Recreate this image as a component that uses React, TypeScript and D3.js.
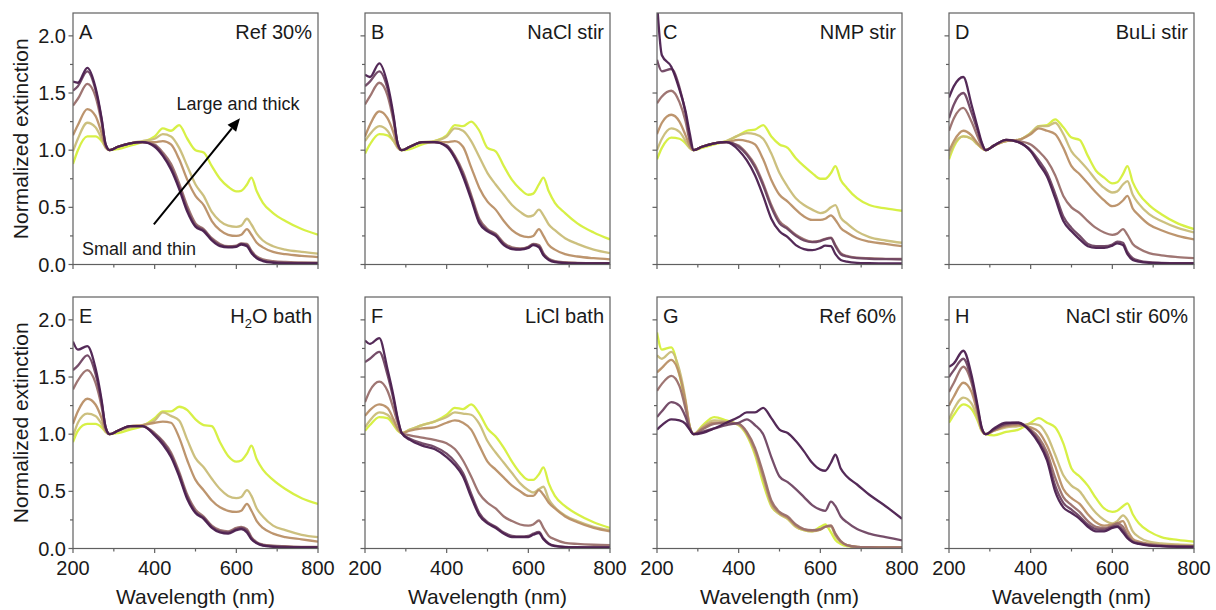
import React from "react";
import * as d3 from "d3";

// ---------- data ----------
const WAVELENGTHS = [200, 212, 235, 255, 270, 280, 290, 310, 340, 370, 400, 420, 440, 460, 480, 500, 520, 540, 560, 580, 600, 612, 626, 637, 650, 665, 690, 720, 760, 800];

const SERIES_COLORS = ["#4b1f4f", "#6f4462", "#9a6f6c", "#b98f66", "#c9bd78", "#d5ef3c"];

const X_TICKS = [200, 400, 600, 800];
const X_MINOR = [300, 500, 700];
const Y_TICKS = [0, 0.5, 1.0, 1.5, 2.0];
const Y_MINOR = [0.25, 0.75, 1.25, 1.75];

const PANEL_LETTERS = ["A", "B", "C", "D", "E", "F", "G", "H"];
const PANEL_TITLES = ["Ref 30%", "NaCl stir", "NMP stir", "BuLi stir", "H2O bath", "LiCl bath", "Ref 60%", "NaCl stir 60%"];

const X_LABEL = "Wavelength (nm)";
const Y_LABEL = "Normalized extinction";
const ARROW_TEXT_TOP = "Large and thick";
const ARROW_TEXT_BOTTOM = "Small and thin";

// series ordered from darkest (S1) to yellow-green (S6)
const A_SERIES = [
  [1.60,1.59,1.72,1.55,1.28,1.05,1.00,1.03,1.06,1.07,1.03,0.95,0.83,0.66,0.46,0.33,0.29,0.21,0.16,0.15,0.155,0.175,0.16,0.10,0.055,0.03,0.015,0.01,0.01,0.01],
  [1.52,1.56,1.69,1.53,1.27,1.05,1.00,1.03,1.06,1.07,1.04,0.96,0.85,0.68,0.48,0.34,0.30,0.22,0.17,0.155,0.16,0.18,0.17,0.11,0.06,0.035,0.02,0.015,0.012,0.012],
  [1.39,1.45,1.58,1.47,1.24,1.04,1.00,1.03,1.06,1.07,1.05,0.98,0.88,0.71,0.51,0.36,0.31,0.23,0.18,0.16,0.165,0.185,0.18,0.12,0.07,0.045,0.03,0.022,0.018,0.016],
  [1.13,1.22,1.36,1.30,1.15,1.03,1.00,1.03,1.06,1.07,1.07,1.08,1.05,0.92,0.74,0.60,0.52,0.38,0.30,0.26,0.25,0.26,0.31,0.26,0.19,0.15,0.11,0.09,0.075,0.065],
  [0.99,1.10,1.24,1.20,1.10,1.02,1.00,1.03,1.06,1.08,1.10,1.14,1.12,1.02,0.86,0.70,0.60,0.46,0.38,0.34,0.33,0.34,0.40,0.35,0.27,0.21,0.16,0.13,0.11,0.095],
  [0.88,1.00,1.12,1.12,1.08,1.03,1.00,1.01,1.04,1.07,1.12,1.19,1.17,1.22,1.10,1.00,0.98,0.86,0.75,0.68,0.64,0.645,0.70,0.76,0.64,0.54,0.45,0.38,0.31,0.26],
];

const B_SERIES = [
  [1.66,1.64,1.76,1.58,1.30,1.06,1.00,1.03,1.07,1.07,1.03,0.93,0.77,0.57,0.36,0.29,0.25,0.17,0.135,0.13,0.145,0.17,0.15,0.08,0.04,0.02,0.012,0.01,0.01,0.01],
  [1.56,1.60,1.69,1.54,1.28,1.06,1.00,1.03,1.07,1.07,1.04,0.94,0.79,0.59,0.38,0.30,0.26,0.18,0.14,0.135,0.15,0.175,0.16,0.09,0.045,0.025,0.015,0.012,0.01,0.01],
  [1.40,1.47,1.59,1.48,1.25,1.05,1.00,1.03,1.07,1.07,1.04,0.95,0.81,0.61,0.40,0.31,0.27,0.19,0.15,0.14,0.155,0.18,0.17,0.10,0.05,0.03,0.02,0.015,0.012,0.012],
  [1.12,1.22,1.34,1.28,1.15,1.03,1.00,1.03,1.07,1.07,1.07,1.08,1.03,0.85,0.67,0.55,0.48,0.38,0.30,0.255,0.24,0.25,0.31,0.25,0.17,0.13,0.09,0.07,0.055,0.045],
  [1.08,1.14,1.21,1.17,1.08,1.02,1.00,1.03,1.07,1.08,1.12,1.19,1.17,1.08,0.94,0.80,0.70,0.61,0.52,0.46,0.42,0.43,0.48,0.43,0.35,0.30,0.23,0.18,0.13,0.10],
  [0.97,1.05,1.14,1.13,1.08,1.03,1.00,1.01,1.05,1.08,1.13,1.22,1.21,1.25,1.17,1.02,0.99,0.86,0.74,0.66,0.61,0.62,0.70,0.76,0.64,0.54,0.45,0.36,0.28,0.22],
];

const C_SERIES = [
  [2.30,1.83,1.73,1.53,1.34,1.15,1.00,1.03,1.06,1.07,1.00,0.91,0.78,0.60,0.40,0.29,0.24,0.17,0.135,0.125,0.145,0.165,0.16,0.09,0.04,0.025,0.015,0.012,0.01,0.01],
  [1.79,1.69,1.71,1.55,1.32,1.10,1.00,1.03,1.06,1.07,1.03,0.96,0.85,0.69,0.50,0.36,0.31,0.25,0.21,0.195,0.205,0.22,0.23,0.16,0.09,0.07,0.055,0.05,0.047,0.045],
  [1.41,1.47,1.52,1.42,1.25,1.08,1.00,1.03,1.06,1.07,1.04,0.97,0.87,0.71,0.52,0.38,0.32,0.26,0.22,0.20,0.21,0.225,0.235,0.17,0.10,0.075,0.06,0.055,0.05,0.048],
  [1.14,1.24,1.31,1.25,1.13,1.04,1.00,1.03,1.06,1.07,1.09,1.08,1.05,0.92,0.74,0.61,0.55,0.48,0.42,0.39,0.39,0.40,0.43,0.39,0.32,0.28,0.23,0.20,0.18,0.16],
  [1.00,1.10,1.19,1.16,1.08,1.02,1.00,1.03,1.06,1.08,1.13,1.15,1.14,1.10,0.97,0.80,0.68,0.58,0.52,0.48,0.45,0.46,0.50,0.52,0.41,0.36,0.29,0.24,0.21,0.19],
  [0.92,1.02,1.11,1.10,1.06,1.02,1.00,1.02,1.05,1.08,1.13,1.17,1.18,1.22,1.12,1.05,1.02,0.93,0.86,0.80,0.75,0.75,0.80,0.86,0.74,0.67,0.58,0.52,0.49,0.47],
];

const D_SERIES = [
  [1.46,1.56,1.64,1.40,1.20,1.07,1.00,1.04,1.09,1.07,0.99,0.88,0.77,0.58,0.38,0.29,0.22,0.16,0.145,0.145,0.165,0.185,0.17,0.09,0.04,0.025,0.015,0.012,0.01,0.01],
  [1.28,1.40,1.50,1.33,1.17,1.06,1.00,1.04,1.09,1.07,1.00,0.91,0.80,0.62,0.42,0.32,0.25,0.18,0.16,0.16,0.175,0.20,0.19,0.11,0.055,0.035,0.02,0.015,0.012,0.012],
  [1.17,1.28,1.37,1.25,1.12,1.04,1.00,1.04,1.09,1.08,1.05,0.99,0.91,0.78,0.60,0.50,0.45,0.38,0.32,0.28,0.26,0.27,0.31,0.26,0.18,0.14,0.10,0.08,0.065,0.055],
  [0.99,1.08,1.17,1.13,1.06,1.02,1.00,1.04,1.08,1.09,1.14,1.19,1.17,1.14,1.02,0.86,0.79,0.71,0.63,0.56,0.51,0.52,0.56,0.60,0.49,0.43,0.35,0.30,0.25,0.22],
  [0.95,1.05,1.12,1.10,1.05,1.02,1.00,1.04,1.08,1.09,1.15,1.21,1.21,1.24,1.14,0.99,0.91,0.83,0.74,0.67,0.63,0.64,0.70,0.73,0.61,0.53,0.44,0.38,0.32,0.28],
  [0.92,1.03,1.12,1.10,1.05,1.02,1.00,1.04,1.08,1.09,1.15,1.21,1.22,1.27,1.20,1.11,1.09,0.95,0.82,0.76,0.71,0.72,0.79,0.86,0.72,0.62,0.52,0.44,0.36,0.31],
];

const E_SERIES = [
  [1.81,1.74,1.77,1.58,1.30,1.06,1.00,1.03,1.07,1.07,0.99,0.91,0.80,0.63,0.43,0.31,0.26,0.18,0.14,0.13,0.16,0.17,0.14,0.08,0.045,0.025,0.015,0.01,0.01,0.01],
  [1.56,1.60,1.69,1.53,1.28,1.06,1.00,1.03,1.07,1.07,1.00,0.93,0.82,0.65,0.45,0.32,0.27,0.19,0.15,0.14,0.17,0.18,0.155,0.09,0.05,0.03,0.02,0.015,0.012,0.012],
  [1.39,1.47,1.56,1.45,1.24,1.05,1.00,1.03,1.07,1.07,1.01,0.94,0.84,0.67,0.47,0.34,0.28,0.20,0.16,0.15,0.18,0.19,0.17,0.10,0.055,0.035,0.025,0.02,0.015,0.015],
  [1.09,1.20,1.31,1.26,1.14,1.03,1.00,1.03,1.07,1.08,1.10,1.11,1.10,0.97,0.77,0.60,0.51,0.42,0.36,0.33,0.32,0.33,0.39,0.33,0.24,0.18,0.13,0.10,0.08,0.06],
  [0.98,1.10,1.18,1.16,1.09,1.02,1.00,1.03,1.06,1.08,1.12,1.19,1.16,1.12,0.95,0.79,0.71,0.61,0.52,0.46,0.44,0.45,0.51,0.46,0.35,0.28,0.20,0.16,0.12,0.10],
  [0.93,1.03,1.09,1.09,1.06,1.02,1.00,1.01,1.04,1.07,1.14,1.20,1.20,1.24,1.21,1.13,1.08,1.07,0.93,0.81,0.76,0.77,0.83,0.90,0.78,0.69,0.60,0.52,0.44,0.39],
];

const F_SERIES = [
  [1.82,1.79,1.84,1.57,1.33,1.14,1.01,0.95,0.90,0.87,0.80,0.73,0.63,0.45,0.29,0.22,0.18,0.13,0.10,0.10,0.10,0.12,0.135,0.08,0.04,0.02,0.012,0.01,0.01,0.01],
  [1.63,1.66,1.72,1.52,1.30,1.13,1.01,0.96,0.92,0.89,0.83,0.76,0.66,0.48,0.31,0.23,0.19,0.14,0.11,0.105,0.11,0.13,0.145,0.09,0.045,0.025,0.015,0.012,0.01,0.01],
  [1.28,1.38,1.46,1.38,1.22,1.10,1.01,0.99,0.97,0.95,0.92,0.87,0.77,0.63,0.48,0.40,0.35,0.28,0.24,0.21,0.20,0.21,0.245,0.18,0.11,0.08,0.05,0.04,0.033,0.03],
  [1.16,1.21,1.26,1.23,1.13,1.05,1.01,1.03,1.05,1.06,1.10,1.12,1.10,1.04,0.90,0.76,0.69,0.62,0.55,0.50,0.46,0.46,0.51,0.47,0.40,0.35,0.28,0.23,0.18,0.15],
  [1.06,1.12,1.19,1.17,1.10,1.04,1.01,1.04,1.08,1.11,1.15,1.19,1.18,1.17,1.09,0.94,0.84,0.75,0.66,0.57,0.51,0.49,0.52,0.54,0.43,0.36,0.29,0.24,0.19,0.16],
  [1.03,1.08,1.15,1.14,1.08,1.03,1.01,1.04,1.08,1.11,1.17,1.23,1.22,1.26,1.18,1.05,0.98,0.88,0.76,0.66,0.60,0.60,0.65,0.71,0.57,0.46,0.37,0.30,0.23,0.18],
];

const G_SERIES = [
  [1.04,1.08,1.13,1.12,1.09,1.04,1.00,1.01,1.05,1.10,1.15,1.19,1.19,1.23,1.14,1.04,1.01,0.94,0.85,0.75,0.69,0.68,0.75,0.82,0.70,0.63,0.56,0.47,0.37,0.26],
  [1.15,1.20,1.28,1.25,1.15,1.05,1.00,1.02,1.05,1.08,1.10,1.13,1.08,1.00,0.80,0.63,0.58,0.52,0.45,0.38,0.34,0.33,0.41,0.37,0.28,0.23,0.17,0.13,0.10,0.07],
  [1.38,1.44,1.51,1.42,1.22,1.06,1.00,1.04,1.09,1.10,1.09,1.02,0.88,0.66,0.42,0.32,0.28,0.21,0.17,0.16,0.17,0.19,0.20,0.13,0.065,0.03,0.015,0.012,0.01,0.01],
  [1.54,1.58,1.65,1.52,1.28,1.07,1.00,1.05,1.10,1.10,1.09,1.01,0.86,0.63,0.40,0.31,0.27,0.20,0.165,0.155,0.165,0.19,0.20,0.12,0.06,0.03,0.015,0.012,0.01,0.01],
  [1.69,1.66,1.72,1.56,1.30,1.07,1.00,1.06,1.12,1.11,1.08,1.00,0.84,0.61,0.38,0.30,0.26,0.19,0.16,0.15,0.165,0.19,0.19,0.11,0.055,0.03,0.015,0.012,0.01,0.01],
  [1.89,1.74,1.76,1.52,1.26,1.07,1.00,1.07,1.15,1.12,1.08,0.99,0.82,0.57,0.37,0.30,0.26,0.19,0.16,0.15,0.19,0.21,0.14,0.075,0.04,0.02,0.012,0.01,0.01,0.01],
];

const H_SERIES = [
  [1.59,1.62,1.73,1.52,1.25,1.06,1.00,1.05,1.10,1.10,1.02,0.92,0.77,0.50,0.36,0.31,0.26,0.19,0.15,0.15,0.18,0.19,0.14,0.09,0.055,0.04,0.025,0.02,0.015,0.015],
  [1.50,1.56,1.66,1.48,1.23,1.05,1.00,1.04,1.09,1.10,1.03,0.94,0.80,0.55,0.40,0.34,0.28,0.21,0.17,0.165,0.19,0.20,0.16,0.10,0.06,0.045,0.03,0.022,0.018,0.016],
  [1.37,1.45,1.59,1.45,1.21,1.05,1.00,1.04,1.08,1.09,1.04,0.97,0.84,0.62,0.45,0.38,0.32,0.24,0.19,0.18,0.20,0.22,0.19,0.12,0.065,0.05,0.035,0.025,0.02,0.018],
  [1.25,1.33,1.45,1.37,1.18,1.04,1.00,1.03,1.07,1.08,1.06,1.02,0.90,0.72,0.52,0.44,0.39,0.30,0.23,0.20,0.21,0.22,0.24,0.16,0.085,0.06,0.04,0.03,0.025,0.02],
  [1.13,1.22,1.32,1.27,1.14,1.03,1.00,1.03,1.06,1.07,1.09,1.08,0.99,0.82,0.64,0.55,0.50,0.40,0.31,0.25,0.22,0.24,0.29,0.25,0.15,0.10,0.06,0.045,0.035,0.03],
  [1.10,1.17,1.26,1.22,1.12,1.03,1.00,0.99,1.02,1.04,1.10,1.14,1.10,1.06,0.92,0.70,0.63,0.55,0.44,0.35,0.32,0.33,0.37,0.395,0.30,0.22,0.15,0.10,0.075,0.06],
];

const PANEL_SERIES = [A_SERIES, B_SERIES, C_SERIES, D_SERIES, E_SERIES, F_SERIES, G_SERIES, H_SERIES];

// annotation in panel A (data coordinates)
const ARROW_FROM = [398, 0.35];
const ARROW_TO = [609, 1.28];
const LABEL_TOP_AT = [604, 1.35];
const LABEL_BOTTOM_AT = [222, 0.087];

// ---------- layout ----------
const W = 1216;
const H = 610;
const PLOT_LEFTS = [73, 365, 657, 949];
const PLOT_TOPS = [13, 297];
const PLOT_W = 245;
const PLOT_H = 251.5;
const FONT = "'Liberation Sans', Arial, Helvetica, sans-serif";
const FRAME = "#606060";
const TEXT = "#1a1a1a";

function Title({ text, x, y }: { text: string; x: number; y: number }) {
  const m = text.match(/^H2O(.*)$/);
  if (m) {
    return (
      <text x={x} y={y} textAnchor="end" fontSize={20} fontFamily={FONT} fill={TEXT}>
        H<tspan fontSize={13} dy={5}>2</tspan>
        <tspan dy={-5}>O{m[1]}</tspan>
      </text>
    );
  }
  return (
    <text x={x} y={y} textAnchor="end" fontSize={20} fontFamily={FONT} fill={TEXT}>
      {text}
    </text>
  );
}

function Annotation({ x, y }: { x: d3.ScaleLinear<number, number>; y: d3.ScaleLinear<number, number> }) {
  const x1 = x(ARROW_FROM[0]);
  const y1 = y(ARROW_FROM[1]);
  const x2 = x(ARROW_TO[0]);
  const y2 = y(ARROW_TO[1]);
  const ang = Math.atan2(y2 - y1, x2 - x1);
  const hl = 13;
  const hw = 5.5;
  const bx = x2 - hl * Math.cos(ang);
  const by = y2 - hl * Math.sin(ang);
  const px = -Math.sin(ang);
  const py = Math.cos(ang);
  const head = `M${x2},${y2} L${bx + hw * px},${by + hw * py} L${bx - hw * px},${by - hw * py} Z`;
  return (
    <g>
      <line x1={x1} y1={y1} x2={bx} y2={by} stroke="#000" strokeWidth={2} />
      <path d={head} fill="#000" />
      <text x={x(LABEL_TOP_AT[0])} y={y(LABEL_TOP_AT[1])} textAnchor="middle" fontSize={18} fontFamily={FONT} fill={TEXT}>
        {ARROW_TEXT_TOP}
      </text>
      <text x={x(LABEL_BOTTOM_AT[0])} y={y(LABEL_BOTTOM_AT[1])} textAnchor="start" fontSize={18} fontFamily={FONT} fill={TEXT}>
        {ARROW_TEXT_BOTTOM}
      </text>
    </g>
  );
}

function Panel({ idx }: { idx: number }) {
  const col = idx % 4;
  const row = Math.floor(idx / 4);
  const left = PLOT_LEFTS[col];
  const top = PLOT_TOPS[row];
  const x = d3.scaleLinear().domain([200, 800]).range([left, left + PLOT_W]);
  const y = d3.scaleLinear().domain([0, 2.2]).range([top + PLOT_H, top]);
  const line = d3
    .line<[number, number]>()
    .x((d) => x(d[0]))
    .y((d) => y(d[1]))
    .curve(d3.curveMonotoneX);
  const series = PANEL_SERIES[idx];
  const clipId = `clip-${idx}`;
  const bottom = top + PLOT_H;
  const showY = col === 0;
  const showX = row === 1;

  return (
    <g>
      <defs>
        <clipPath id={clipId}>
          <rect x={left} y={top} width={PLOT_W} height={PLOT_H} />
        </clipPath>
      </defs>
      <g clipPath={`url(#${clipId})`}>
        {series
          .map((vals, si) => ({ vals, si }))
          .reverse()
          .map(({ vals, si }) => (
            <path
              key={si}
              d={line(WAVELENGTHS.map((w, i) => [w, vals[i]] as [number, number])) || ""}
              fill="none"
              stroke={SERIES_COLORS[si]}
              strokeWidth={2.3}
              strokeLinejoin="round"
              strokeOpacity={0.95}
            />
          ))}
      </g>
      <rect x={left} y={top} width={PLOT_W} height={PLOT_H} fill="none" stroke={FRAME} strokeWidth={1.2} />
      {Y_TICKS.map((t) => (
        <line key={"yt" + t} x1={left - 4.5} x2={left} y1={y(t)} y2={y(t)} stroke={FRAME} strokeWidth={1.2} />
      ))}
      {Y_MINOR.map((t) => (
        <line key={"ym" + t} x1={left - 3} x2={left} y1={y(t)} y2={y(t)} stroke={FRAME} strokeWidth={1.2} />
      ))}
      {X_TICKS.map((t) => (
        <line key={"xt" + t} x1={x(t)} x2={x(t)} y1={bottom} y2={bottom + 4.5} stroke={FRAME} strokeWidth={1.2} />
      ))}
      {X_MINOR.map((t) => (
        <line key={"xm" + t} x1={x(t)} x2={x(t)} y1={bottom} y2={bottom + 3} stroke={FRAME} strokeWidth={1.2} />
      ))}
      {showY &&
        Y_TICKS.map((t) => (
          <text key={"yl" + t} x={left - 7} y={y(t) + 7} textAnchor="end" fontSize={20} fontFamily={FONT} fill={TEXT}>
            {t.toFixed(1)}
          </text>
        ))}
      {showX &&
        X_TICKS.map((t) => (
          <text key={"xl" + t} x={x(t)} y={bottom + 26} textAnchor="middle" fontSize={20} fontFamily={FONT} fill={TEXT}>
            {t}
          </text>
        ))}
      {showX && (
        <text x={left + PLOT_W / 2} y={bottom + 55} textAnchor="middle" fontSize={21} fontFamily={FONT} fill={TEXT}>
          {X_LABEL}
        </text>
      )}
      {showY && (
        <text
          transform={`translate(${left - 45},${top + PLOT_H / 2}) rotate(-90)`}
          textAnchor="middle"
          fontSize={21}
          fontFamily={FONT}
          fill={TEXT}
        >
          {Y_LABEL}
        </text>
      )}
      <text x={left + 6} y={top + 26} fontSize={20} fontFamily={FONT} fill={TEXT}>
        {PANEL_LETTERS[idx]}
      </text>
      <Title text={PANEL_TITLES[idx]} x={left + PLOT_W - 6} y={top + 26} />
      {idx === 0 && <Annotation x={x} y={y} />}
    </g>
  );
}

export default function App() {
  return (
    <svg
      width={W}
      height={H}
      viewBox={`0 0 ${W} ${H}`}
      style={{ position: "absolute", left: 0, top: 0, background: "#fff" }}
    >
      <rect x={0} y={0} width={W} height={H} fill="#fff" />
      {PANEL_LETTERS.map((_, i) => (
        <Panel key={i} idx={i} />
      ))}
    </svg>
  );
}
